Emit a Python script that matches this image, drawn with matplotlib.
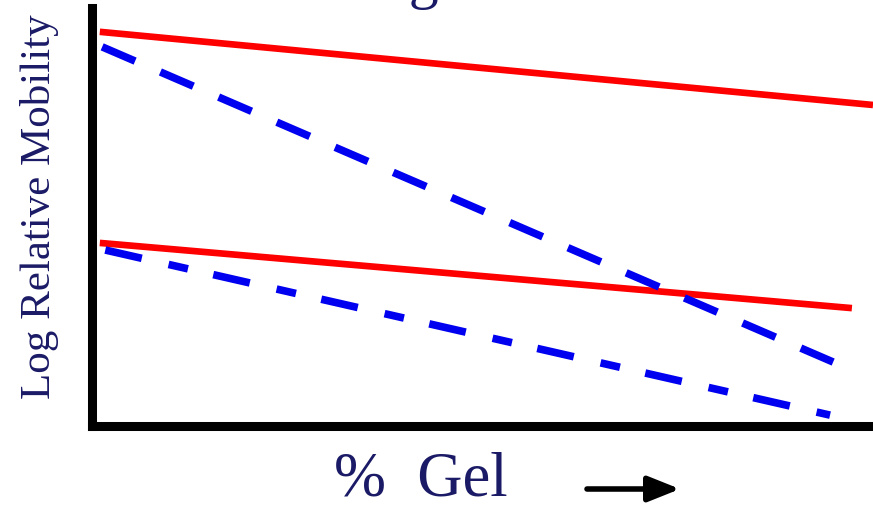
import matplotlib
matplotlib.use("Agg")
import matplotlib.pyplot as plt

# Ferguson plot sketch: log relative mobility vs % gel (arbitrary units, 0-100)
gel_red_top = [1.0, 100.0]
mob_red_top = [94.3, 76.8]

gel_blue_top = [1.3, 94.9]
mob_blue_top = [90.7, 15.3]

gel_red_low = [1.0, 97.3]
mob_red_low = [43.8, 28.2]

gel_blue_low = [1.7, 94.5]
mob_blue_low = [42.1, 2.6]

title_text = "Ferguson Plot"
ylabel_text = "Log Relative Mobility"
xlabel_text = "%  Gel"

W, H = 873, 509
navy = "#1a1a66"
red = "#ff0000"
blue = "#0000f0"

fig = plt.figure(figsize=(W / 100, H / 100), dpi=100)
ax = fig.add_axes([92 / W, 1 - 426 / H, 1 - 92 / W, (426 - 8) / H])
ax.set_xlim(0, 100)
ax.set_ylim(0, 100)

ax.plot(gel_red_top, mob_red_top, color=red, lw=4.8, solid_capstyle="butt")
ax.plot(gel_red_low, mob_red_low, color=red, lw=4.8, solid_capstyle="butt")
ax.plot(gel_blue_top, mob_blue_top, color=blue, lw=5.5,
        linestyle=(0, (4.7, 3.6)), dash_capstyle="butt")
ax.plot(gel_blue_low, mob_blue_low, color=blue, lw=5.5,
        linestyle=(0, (4.9, 3.6, 2.6, 3.4)), dash_capstyle="butt")

for side in ["top", "right"]:
    ax.spines[side].set_visible(False)
for side in ["left", "bottom"]:
    ax.spines[side].set_linewidth(6.5)
    ax.spines[side].set_color("black")
    ax.spines[side].set_capstyle("projecting")
ax.set_xticks([])
ax.set_yticks([])

serif = ["Liberation Serif", "DejaVu Serif"]

# title sits mostly above the canvas in the reference, only the descender shows
fig.text(497 / W, 1 + 3 / H, title_text, family=serif, fontsize=43,
         color=navy, ha="center", va="baseline")

fig.text(40 / W, 1 - 207 / H, ylabel_text, family=serif, fontsize=31,
         color=navy, rotation=90, ha="center", va="center")

fig.text(334 / W, 1 - 495 / H, xlabel_text, family=serif, fontsize=45,
         color=navy, ha="left", va="baseline")

# arrow after the x label
ax.annotate("", xy=(680 / W, 1 - 489 / H), xytext=(587 / W, 1 - 489 / H),
            xycoords="figure fraction", textcoords="figure fraction",
            arrowprops=dict(arrowstyle="-|>,head_length=0.55,head_width=0.22",
                            lw=4.0, color="black", mutation_scale=35,
                            shrinkA=0, shrinkB=0),
            annotation_clip=False)

fig.savefig("out.png", dpi=100)
